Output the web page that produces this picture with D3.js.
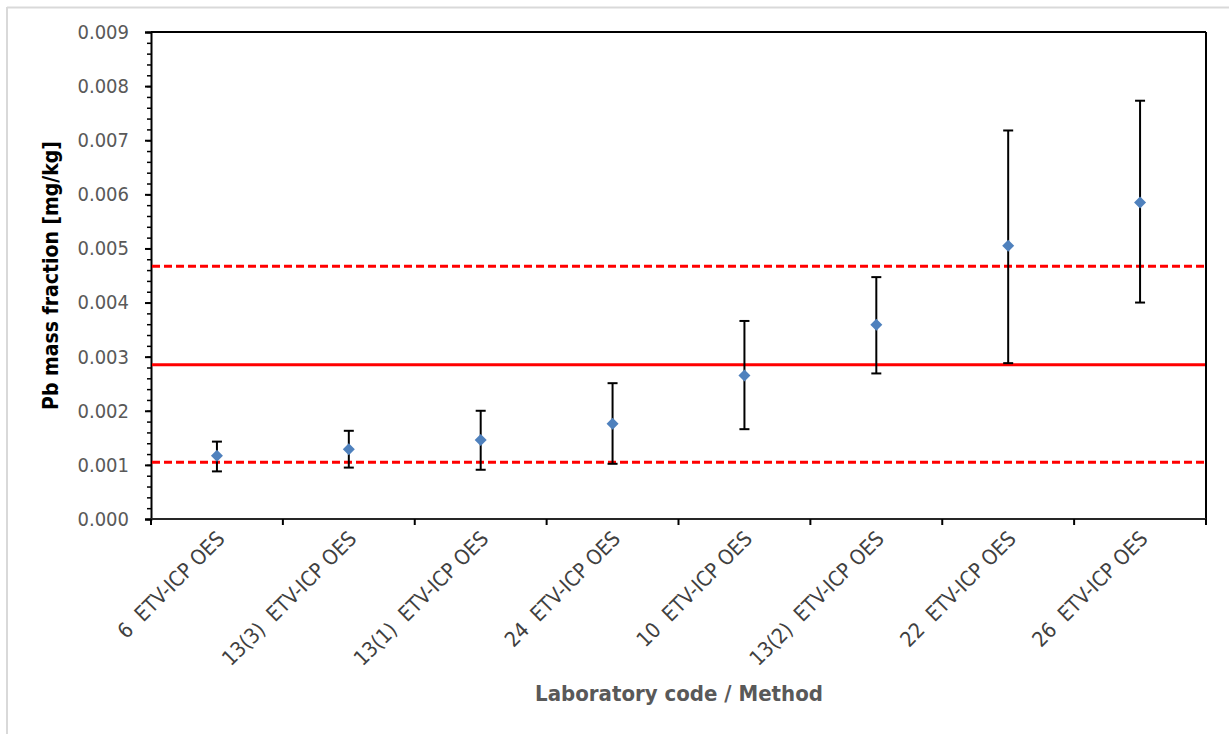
<!DOCTYPE html>
<html>
<head>
<meta charset="utf-8">
<script src="https://cdn.jsdelivr.net/npm/d3@7"></script>
<style>
  html, body { margin: 0; padding: 0; background: #fff; }
  svg text { font-family: "DejaVu Sans Condensed", "DejaVu Sans", sans-serif; font-stretch: condensed; }
</style>
</head>
<body>
<svg id="chart" width="1229" height="734"></svg>
<script>
// ---- data ----
const categories = ["6  ETV-ICP OES", "13(3)  ETV-ICP OES", "13(1)  ETV-ICP OES", "24  ETV-ICP OES",
                    "10  ETV-ICP OES", "13(2)  ETV-ICP OES", "22  ETV-ICP OES", "26  ETV-ICP OES"];
const values    = [0.00117, 0.00129, 0.00146, 0.00176, 0.00265, 0.00359, 0.00505, 0.00585];
const errHigh   = [0.00143, 0.00163, 0.00200, 0.00251, 0.00366, 0.00447, 0.00718, 0.00773];
const errLow    = [0.00088, 0.00095, 0.00091, 0.00102, 0.00166, 0.00269, 0.00288, 0.00400];
const assignedValue = 0.00285;
const limitLow  = 0.00105;
const limitHigh = 0.00467;
const yTicks = [0, 0.001, 0.002, 0.003, 0.004, 0.005, 0.006, 0.007, 0.008, 0.009];
const yMinorTicks = d3.range(0, 46).map(i => i * 0.0002);
const yTitle = "Pb mass fraction [mg/kg]";
const xTitle = "Laboratory code / Method";

// ---- layout ----
const svg = d3.select("#chart");
const plot = { left: 151, right: 1206, top: 32, bottom: 519 };

// frame (gray top and left lines)
svg.append("line").attr("x1", 7).attr("x2", 1229).attr("y1", 7.5).attr("y2", 7.5)
   .attr("stroke", "#d9d9d9").attr("stroke-width", 2);
svg.append("line").attr("x1", 7).attr("x2", 7).attr("y1", 7).attr("y2", 734)
   .attr("stroke", "#d9d9d9").attr("stroke-width", 2);

const x = d3.scaleBand().domain(categories).range([plot.left, plot.right]).padding(0);
const y = d3.scaleLinear().domain([0, 0.009]).range([plot.bottom, plot.top]);

// plot box top and right
svg.append("line").attr("x1", plot.left).attr("x2", plot.right).attr("y1", plot.top).attr("y2", plot.top)
   .attr("stroke", "#000").attr("stroke-width", 2);
svg.append("line").attr("x1", plot.right).attr("x2", plot.right).attr("y1", plot.top).attr("y2", plot.bottom + 6)
   .attr("stroke", "#000").attr("stroke-width", 2);

// y minor ticks
svg.append("g")
  .attr("transform", `translate(${plot.left},0)`)
  .call(d3.axisLeft(y).tickValues(yMinorTicks).tickSize(4).tickFormat(""))
  .call(g => g.select(".domain").remove())
  .call(g => g.selectAll("line").attr("stroke", "#000").attr("stroke-width", 1.5));

// y axis major
svg.append("g")
  .attr("transform", `translate(${plot.left},0)`)
  .call(d3.axisLeft(y).tickValues(yTicks).tickSize(6).tickPadding(16).tickFormat(d3.format(".3f")))
  .call(g => g.select(".domain").attr("stroke", "#000").attr("stroke-width", 2))
  .call(g => g.selectAll(".tick line").attr("stroke", "#000").attr("stroke-width", 2))
  .call(g => g.selectAll("text").attr("fill", "#595959").style("font-size", "20px"));

// x axis: ticks at category boundaries
const boundaries = categories.map(c => x(c)).concat([plot.right]);
svg.append("line").attr("x1", plot.left).attr("x2", plot.right).attr("y1", plot.bottom).attr("y2", plot.bottom)
   .attr("stroke", "#262626").attr("stroke-width", 2);
svg.append("g").selectAll("line").data(boundaries).join("line")
   .attr("x1", d => d).attr("x2", d => d).attr("y1", plot.bottom).attr("y2", plot.bottom + 6)
   .attr("stroke", "#000").attr("stroke-width", 2);

// x labels rotated
svg.append("g").selectAll("text").data(categories).join("text")
   .attr("transform", d => `translate(${x(d) + x.bandwidth() / 2 + 9},${plot.bottom + 21}) rotate(-45)`)
   .attr("text-anchor", "end")
   .attr("fill", "#404040")
   .style("font-size", "21px")
   .style("white-space", "pre")
   .text(d => d);

// reference lines
const refLines = [
  { v: assignedValue, dash: null },
  { v: limitLow, dash: "8,4" },
  { v: limitHigh, dash: "8,4" }
];
svg.append("g").selectAll("line").data(refLines).join("line")
   .attr("x1", plot.left + 1).attr("x2", plot.right - 1)
   .attr("y1", d => y(d.v)).attr("y2", d => y(d.v))
   .attr("stroke", "#ff0000").attr("stroke-width", 3)
   .attr("stroke-dasharray", d => d.dash);

// error bars
const pts = categories.map((c, i) => ({ c, v: values[i], hi: errHigh[i], lo: errLow[i] }));
const eb = svg.append("g").attr("stroke", "#000").attr("stroke-width", 2);
eb.selectAll("line.v").data(pts).join("line").attr("class", "v")
  .attr("x1", d => x(d.c) + x.bandwidth() / 2).attr("x2", d => x(d.c) + x.bandwidth() / 2)
  .attr("y1", d => y(d.hi)).attr("y2", d => y(d.lo));
eb.selectAll("line.hi").data(pts).join("line").attr("class", "hi")
  .attr("x1", d => x(d.c) + x.bandwidth() / 2 - 5).attr("x2", d => x(d.c) + x.bandwidth() / 2 + 5)
  .attr("y1", d => y(d.hi)).attr("y2", d => y(d.hi));
eb.selectAll("line.lo").data(pts).join("line").attr("class", "lo")
  .attr("x1", d => x(d.c) + x.bandwidth() / 2 - 5).attr("x2", d => x(d.c) + x.bandwidth() / 2 + 5)
  .attr("y1", d => y(d.lo)).attr("y2", d => y(d.lo));

// diamond markers
svg.append("g").selectAll("path").data(pts).join("path")
   .attr("d", "M0,-6L6,0L0,6L-6,0Z")
   .attr("transform", d => `translate(${x(d.c) + x.bandwidth() / 2},${y(d.v)})`)
   .attr("fill", "#4f81bd");

// axis titles
svg.append("text")
   .attr("transform", `translate(58,${(plot.top + plot.bottom) / 2}) rotate(-90)`)
   .attr("text-anchor", "middle")
   .attr("fill", "#000")
   .style("font-size", "21px").style("font-weight", "bold")
   .text(yTitle);
svg.append("text")
   .attr("x", 679).attr("y", 701)
   .attr("text-anchor", "middle")
   .attr("fill", "#595959")
   .style("font-size", "22px").style("font-weight", "bold")
   .text(xTitle);
</script>
</body>
</html>
